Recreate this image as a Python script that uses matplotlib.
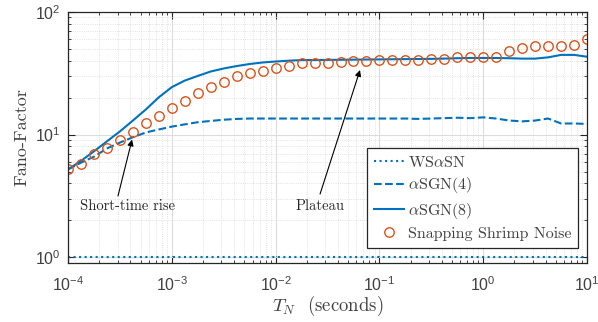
import numpy as np
import matplotlib
matplotlib.use("Agg")
import matplotlib.pyplot as plt
from matplotlib.ticker import LogLocator, NullFormatter

plt.rcParams['mathtext.fontset'] = 'cm'
plt.rcParams['font.family'] = ['Liberation Sans', 'DejaVu Sans']
plt.rcParams['axes.formatter.use_mathtext'] = True

# time grid, 8 samples per decade from 1e-4 to 1e1 s
t_n = np.logspace(-4, 1, 41)

ws_asn = [1.0, 1.0, 1.0, 1.0, 1.0, 1.0, 1.0, 1.0, 1.0, 1.0,
          1.0, 1.0, 1.0, 1.0, 1.0, 1.0, 1.0, 1.0, 1.0, 1.0,
          1.0, 1.0, 1.0, 1.0, 1.0, 1.0, 1.0, 1.0, 1.0, 1.0,
          1.0, 1.0, 1.0, 1.0, 1.0, 1.0, 1.0, 1.0, 1.0, 1.0, 1.0]

asgn4 = [5.2, 5.9, 6.6, 7.7, 8.6, 9.5, 10.4, 11.0, 11.6, 12.1,
         12.6, 12.9, 13.2, 13.4, 13.5, 13.5, 13.5, 13.5, 13.5, 13.5,
         13.5, 13.5, 13.5, 13.5, 13.5, 13.5, 13.5, 13.4, 13.5, 13.6,
         13.7, 13.6, 13.8, 13.5, 13.0, 12.8, 13.0, 13.5, 12.3, 12.3, 12.2]

asgn8 = [5.2, 6.1, 7.3, 8.8, 10.6, 13.0, 16.0, 20.1, 24.3, 27.5,
         30.0, 32.6, 34.5, 36.1, 37.5, 38.6, 39.3, 39.9, 40.4, 40.4,
         40.5, 40.6, 40.7, 40.8, 40.9, 41.0, 41.1, 41.2, 41.3, 41.5,
         41.8, 42.0, 42.0, 42.0, 41.8, 41.5, 41.5, 42.5, 44.5, 44.5, 43.0]

shrimp = [5.2, 5.8, 6.9, 7.8, 9.1, 10.4, 12.3, 14.1, 16.3, 18.6,
          21.7, 24.3, 26.7, 29.9, 31.6, 32.8, 34.8, 36.1, 38.2, 38.2,
          38.2, 38.9, 39.7, 39.7, 40.4, 40.4, 40.4, 40.4, 41.2, 41.2,
          42.8, 42.8, 42.8, 42.8, 47.9, 50.7, 52.6, 52.6, 52.6, 53.7, 60.1]

blue = '#0072BD'
orange = '#D95319'
dark = '#262626'
label_grey = '#404040'
serif = 'cmr10'

fig = plt.figure(figsize=(5.98, 3.22), dpi=100)
ax = fig.add_axes([0.1137, 0.1832, 0.868, 0.7805])

ax.plot(t_n, ws_asn, ':', color=blue, lw=1.5, label=r'WS$\alpha$SN')
ax.plot(t_n, asgn4, '--', color=blue, lw=1.5, label=r'$\alpha$SGN(4)')
ax.plot(t_n, asgn8, '-', color=blue, lw=1.5, label=r'$\alpha$SGN(8)')
ax.plot(t_n, shrimp, 'o', mfc='none', mec=orange, ms=6.8, mew=1.0,
        label='Snapping Shrimp Noise')

ax.set_xscale('log')
ax.set_yscale('log')
ax.set_xlim(1e-4, 1e1)
ax.set_ylim(0.9, 100)

ax.xaxis.set_major_locator(LogLocator(base=10, numticks=10))
ax.xaxis.set_minor_locator(LogLocator(base=10, subs=np.arange(2, 10), numticks=20))
ax.xaxis.set_minor_formatter(NullFormatter())
ax.yaxis.set_major_locator(LogLocator(base=10, numticks=10))
ax.yaxis.set_minor_locator(LogLocator(base=10, subs=np.arange(2, 10), numticks=20))
ax.yaxis.set_minor_formatter(NullFormatter())

ax.grid(True, which='major', color='#dcdcdc', lw=0.8, ls='-')
ax.grid(True, which='minor', color='#d8d8d8', lw=0.6, ls=':')
ax.set_axisbelow(True)

ax.tick_params(which='both', direction='in', top=True, right=True, colors=dark,
               labelsize=11.5, labelcolor=label_grey)
ax.tick_params(which='major', length=5, width=0.8)
ax.tick_params(which='minor', length=2.5, width=0.6)
ax.tick_params(axis='x', which='major', pad=9)
ax.tick_params(axis='y', which='major', pad=5)
for s in ax.spines.values():
    s.set_color(dark)
    s.set_linewidth(0.9)

ax.set_xlabel(r'$T_N$  (seconds)', fontfamily=serif, fontsize=13.5,
              color=label_grey, labelpad=0)
ax.set_ylabel('Fano-Factor', fontfamily=serif, fontsize=13, color=label_grey,
              labelpad=4)

# annotations
ax.annotate('', xy=(4.14e-4, 9.1), xytext=(3.03e-4, 3.16),
            arrowprops=dict(arrowstyle='-|>', color='black', lw=0.8,
                            mutation_scale=9, shrinkA=0, shrinkB=0))
ax.text(3.78e-4, 2.62, 'Short-time rise', fontfamily=serif, fontsize=10.5,
        color=dark, ha='center', va='center')
ax.annotate('', xy=(0.065, 33.5), xytext=(0.0268, 3.28),
            arrowprops=dict(arrowstyle='-|>', color='black', lw=0.8,
                            mutation_scale=9, shrinkA=0, shrinkB=0))
ax.text(0.0268, 2.62, 'Plateau', fontfamily=serif, fontsize=10.5,
        color=dark, ha='center', va='center')

leg = ax.legend(loc='lower right', bbox_to_anchor=(0.983, 0.06), borderaxespad=0,
                prop={'family': serif, 'size': 11.5}, fancybox=False,
                framealpha=1, edgecolor=dark, handlelength=1.9,
                handletextpad=0.2, labelspacing=0.35, borderpad=0.45)
leg.get_frame().set_linewidth(0.9)
for txt in leg.get_texts():
    txt.set_color(label_grey)

fig.savefig('out.png', dpi=100)
